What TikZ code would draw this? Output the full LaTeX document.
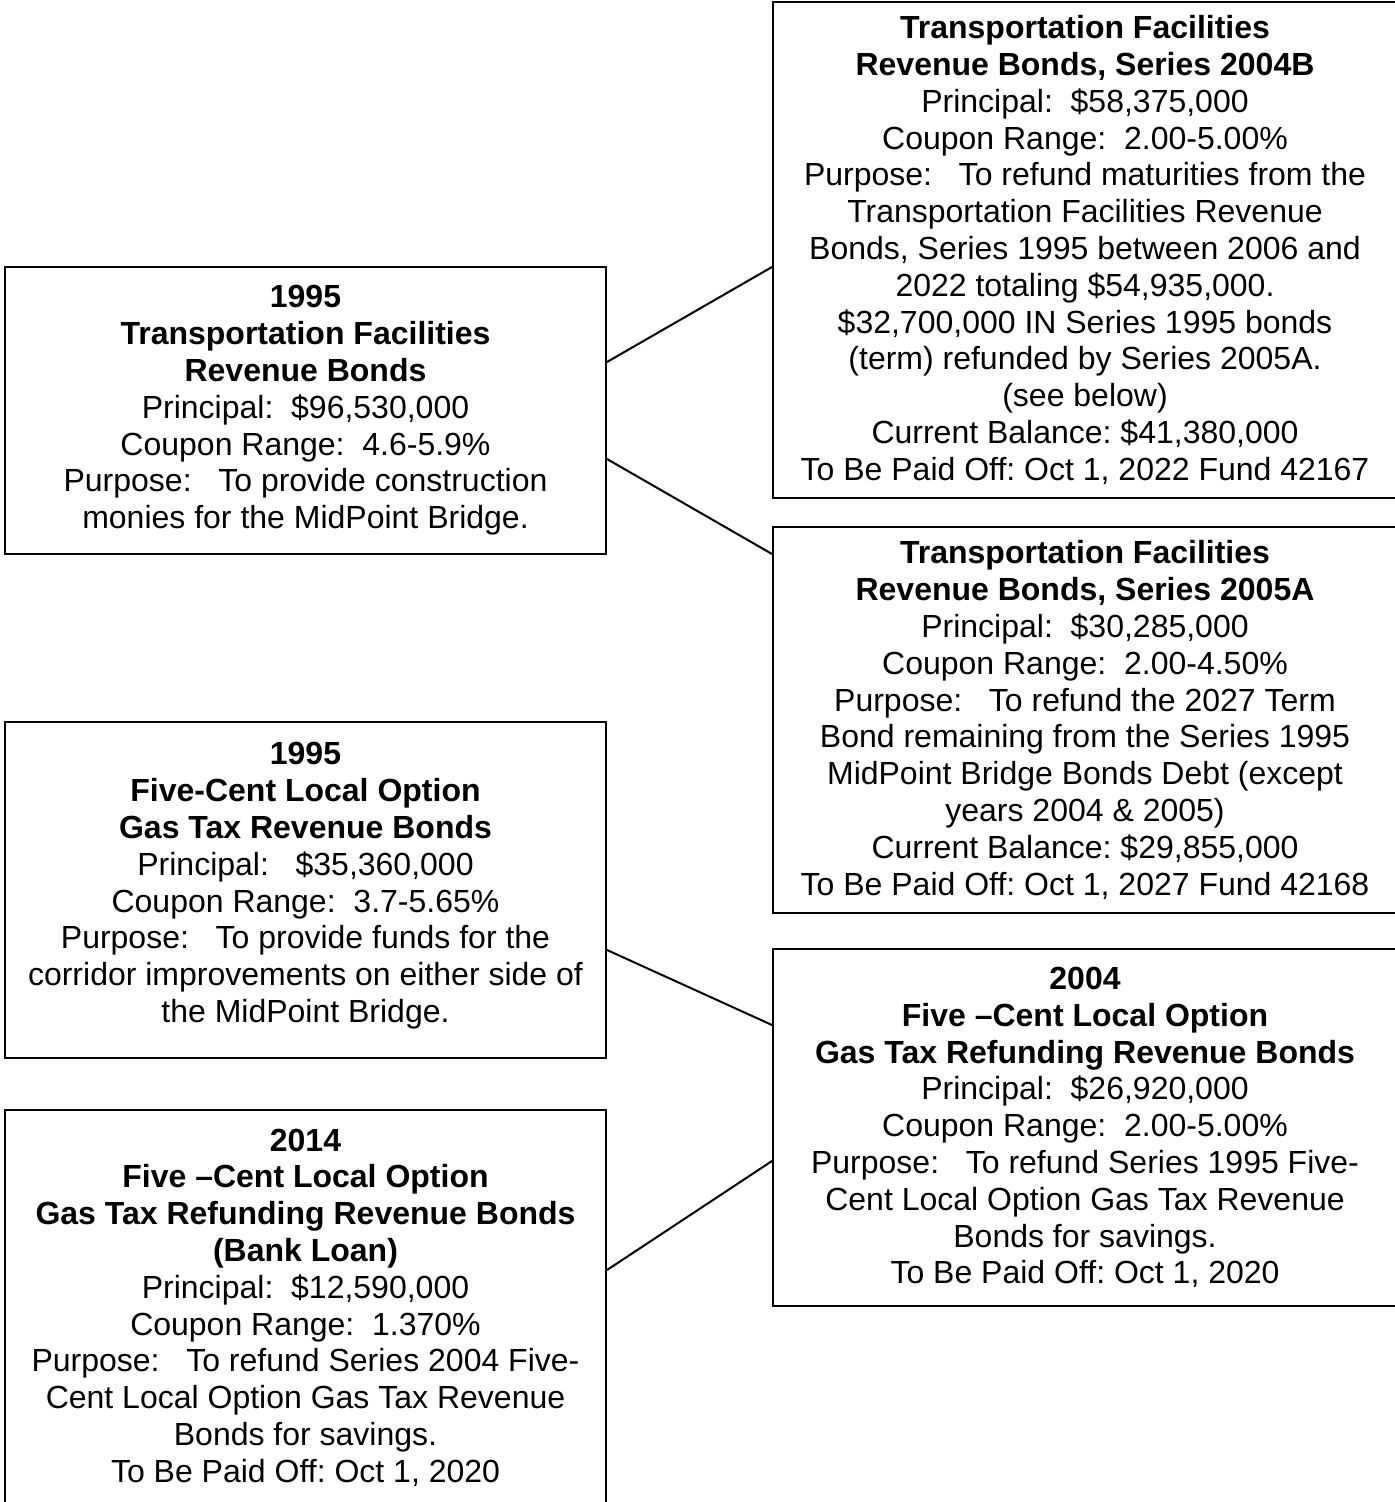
\documentclass[tikz,border=0pt]{standalone}
\usepackage{fontspec}
\setmainfont{Liberation Sans}
\newcommand{\bxfont}{\fontsize{16}{18.4}\selectfont\frenchspacing}
\begin{document}
\begin{tikzpicture}[x=0.5pt,y=-0.5pt,
  bx/.style={draw, line width=1pt, rectangle, inner sep=0pt, align=center, font=\bxfont},
  lbx/.style={bx, minimum width=300.5pt},
  rbx/.style={bx, minimum width=312pt},
  conn/.style={line width=1pt}]
\clip (0,0) rectangle (1395,1502);
\fill[white] (0,0) rectangle (1395,1502);

\node[lbx, minimum height=143.5pt] (A) at (305.5,410.5) {\textbf{1995}\\ \textbf{Transportation Facilities}\\ \textbf{Revenue Bonds}\\ Principal:~~\$96,530,000\\ Coupon Range:~~4.6-5.9\%\\ Purpose:~~~To provide construction\\ monies for the MidPoint Bridge.};

\node[rbx, minimum height=248pt] (B) at (1085,250) {\textbf{Transportation Facilities}\\ \textbf{Revenue Bonds, Series 2004B}\\ Principal:~~\$58,375,000\\ Coupon Range:~~2.00-5.00\%\\ Purpose:~~~To refund maturities from the\\ Transportation Facilities Revenue\\ Bonds, Series 1995 between 2006 and\\ 2022 totaling \$54,935,000.\\ \$32,700,000 IN Series 1995 bonds\\ (term) refunded by Series 2005A.\\ (see below)\\ Current Balance: \$41,380,000\\ To Be Paid Off: Oct 1, 2022 Fund 42167};

\node[rbx, minimum height=193pt] (C) at (1085,720) {\textbf{Transportation Facilities}\\ \textbf{Revenue Bonds, Series 2005A}\\ Principal:~~\$30,285,000\\ Coupon Range:~~2.00-4.50\%\\ Purpose:~~~To refund the 2027 Term\\ Bond remaining from the Series 1995\\ MidPoint Bridge Bonds Debt (except\\ years 2004 \& 2005)\\ Current Balance: \$29,855,000\\ To Be Paid Off: Oct 1, 2027 Fund 42168};

\node[lbx, minimum height=168pt, text depth=7.5pt] (D) at (305.5,890) {\textbf{1995}\\ \textbf{Five-Cent Local Option}\\ \textbf{Gas Tax Revenue Bonds}\\ Principal:~~~\$35,360,000\\ Coupon Range:~~3.7-5.65\%\\ Purpose:~~~To provide funds for the\\ corridor improvements on either side of\\ the MidPoint Bridge.};

\node[rbx, minimum height=178.5pt] (E) at (1085,1127.5) {\textbf{2004}\\ \textbf{Five –Cent Local Option}\\ \textbf{Gas Tax Refunding Revenue Bonds}\\ Principal:~~\$26,920,000\\ Coupon Range:~~2.00-5.00\%\\ Purpose:~~~To refund Series 1995 Five-\\ Cent Local Option Gas Tax Revenue\\ Bonds for savings.\\ To Be Paid Off: Oct 1, 2020};

\node[lbx, minimum height=197.5pt] (F) at (305.5,1307.5) {\textbf{2014}\\ \textbf{Five –Cent Local Option}\\ \textbf{Gas Tax Refunding Revenue Bonds}\\ \textbf{(Bank Loan)}\\ Principal:~~\$12,590,000\\ Coupon Range:~~1.370\%\\ Purpose:~~~To refund Series 2004 Five-\\ Cent Local Option Gas Tax Revenue\\ Bonds for savings.\\ To Be Paid Off: Oct 1, 2020};

\draw[conn] (A.east |- 0,362) -- (B.west |- 0,267);
\draw[conn] (A.east |- 0,459) -- (C.west |- 0,554);
\draw[conn] (D.east |- 0,950) -- (E.west |- 0,1025);
\draw[conn] (F.east |- 0,1270) -- (E.west |- 0,1161);
\end{tikzpicture}
\end{document}
